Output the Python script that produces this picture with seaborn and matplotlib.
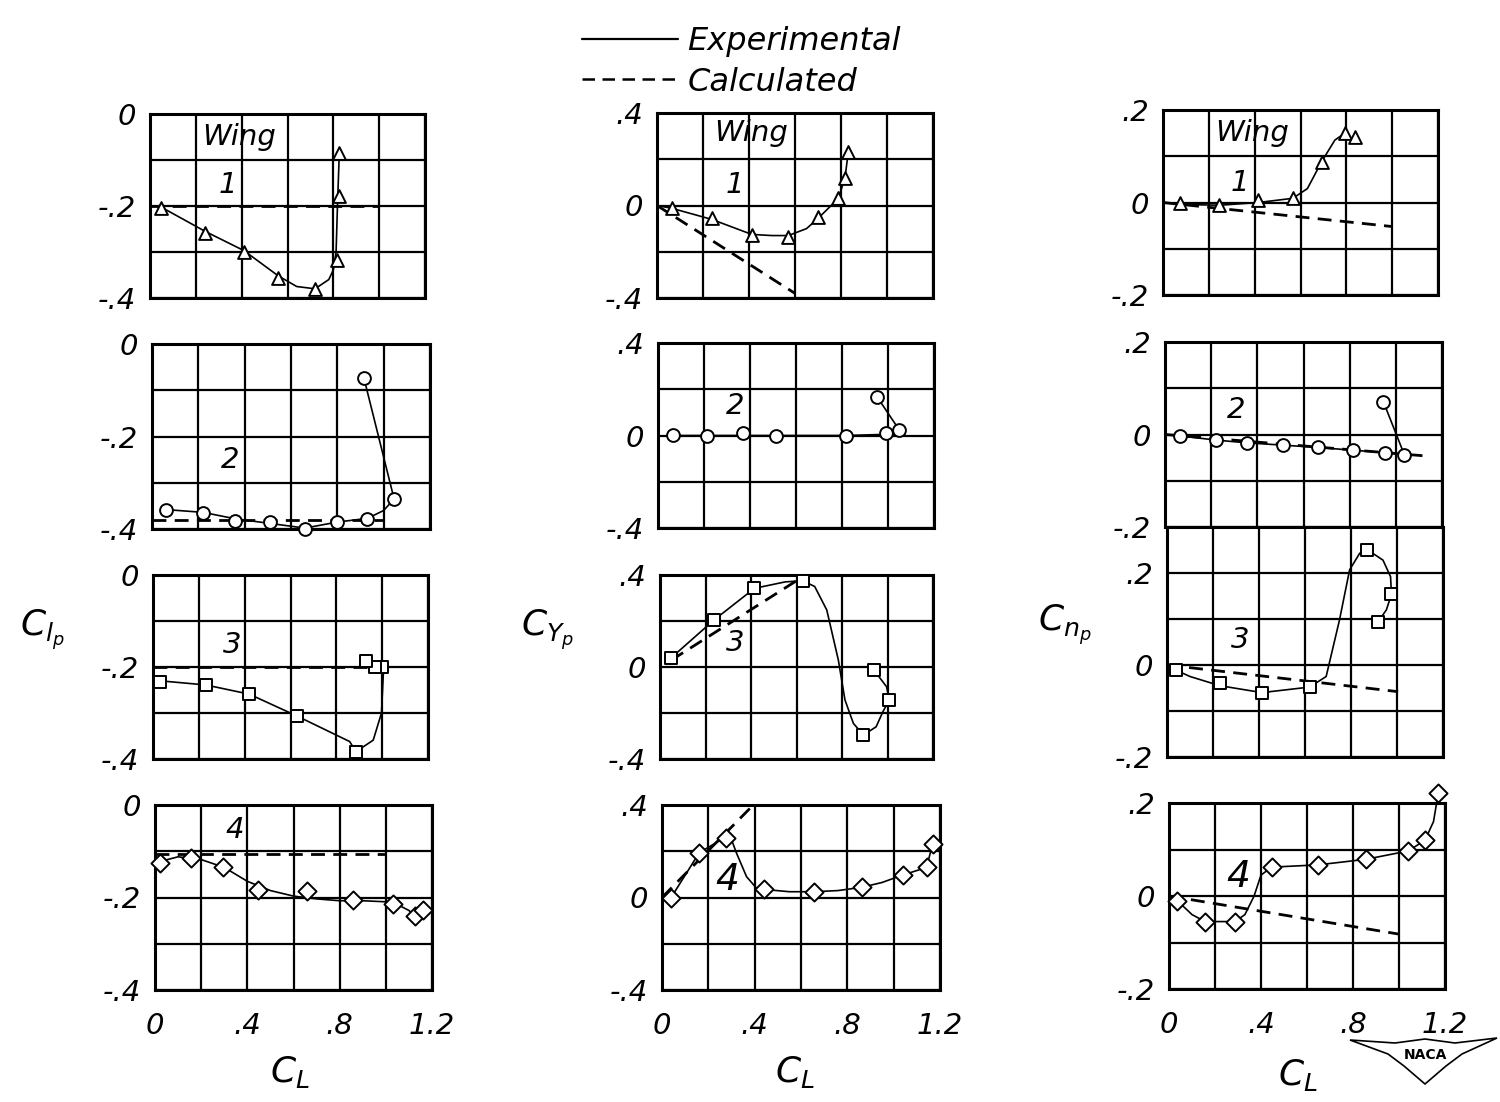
import numpy as np
import pandas as pd
import matplotlib
matplotlib.use("Agg")
import matplotlib.pyplot as plt
import seaborn as sns
from matplotlib.lines import Line2D
from matplotlib.patches import Polygon

# ---------------- data ----------------
# C_l_p panels
clp1_mx = [0.05, 0.24, 0.41, 0.56, 0.72, 0.815, 0.826, 0.826]
clp1_my = [-0.205, -0.259, -0.299, -0.357, -0.381, -0.317, -0.178, -0.085]
clp1_cx = [0.04, 0.24, 0.41, 0.56, 0.64, 0.72, 0.78, 0.80, 0.812, 0.818, 0.826]
clp1_cy = [-0.20, -0.255, -0.297, -0.352, -0.375, -0.38, -0.36, -0.339, -0.30, -0.20, -0.085]
clp1_kx = [0.0, 1.0]
clp1_ky = [-0.20, -0.20]

clp2_mx = [0.06, 0.22, 0.36, 0.51, 0.66, 0.80, 0.93, 1.045, 0.915]
clp2_my = [-0.359, -0.365, -0.382, -0.384, -0.401, -0.384, -0.378, -0.335, -0.074]
clp2_cx = [0.06, 0.22, 0.36, 0.51, 0.66, 0.80, 0.93, 1.00, 1.045, 0.915]
clp2_cy = [-0.358, -0.364, -0.378, -0.388, -0.398, -0.385, -0.377, -0.36, -0.335, -0.074]
clp2_kx = [0.0, 1.0]
clp2_ky = [-0.38, -0.38]

clp3_mx = [0.03, 0.23, 0.42, 0.63, 0.886, 1.0, 0.97, 0.93]
clp3_my = [-0.232, -0.239, -0.259, -0.307, -0.384, -0.201, -0.201, -0.188]
clp3_cx = [0.03, 0.23, 0.42, 0.63, 0.858, 0.886, 0.961, 0.997, 1.006]
clp3_cy = [-0.23, -0.239, -0.259, -0.307, -0.362, -0.384, -0.359, -0.30, -0.205]
clp3_kx = [0.0, 1.0]
clp3_ky = [-0.20, -0.20]

clp4_mx = [0.022, 0.155, 0.296, 0.448, 0.657, 0.859, 1.03, 1.127, 1.163]
clp4_my = [-0.126, -0.115, -0.135, -0.183, -0.185, -0.205, -0.213, -0.241, -0.227]
clp4_cx = [0.0, 0.1, 0.2, 0.3, 0.4, 0.5, 0.6, 0.7, 0.8, 0.9, 1.03, 1.1, 1.127, 1.163]
clp4_cy = [-0.125, -0.112, -0.118, -0.135, -0.165, -0.185, -0.197, -0.203, -0.207, -0.207,
           -0.21, -0.228, -0.241, -0.227]
clp4_kx = [0.0, 1.0]
clp4_ky = [-0.105, -0.105]

# C_Y_p panels
cyp1_mx = [0.064, 0.238, 0.412, 0.571, 0.701, 0.788, 0.817, 0.832]
cyp1_my = [-0.012, -0.055, -0.128, -0.135, -0.051, 0.031, 0.118, 0.233]
cyp1_cx = [0.0, 0.064, 0.238, 0.412, 0.50, 0.571, 0.65, 0.701, 0.788, 0.817, 0.832]
cyp1_cy = [0.0, -0.012, -0.06, -0.125, -0.13, -0.13, -0.10, -0.055, 0.03, 0.118, 0.233]
cyp1_kx = [0.0, 0.60]
cyp1_ky = [0.0, -0.38]

cyp2_mx = [0.067, 0.214, 0.368, 0.513, 0.817, 0.991, 1.049, 0.954]
cyp2_my = [0.002, 0.0, 0.012, 0.0, 0.0, 0.01, 0.024, 0.165]
cyp2_cx = [0.067, 0.214, 0.368, 0.513, 0.817, 0.991, 1.049, 0.954]
cyp2_cy = [0.0, 0.0, 0.0, 0.0, 0.0, 0.005, 0.024, 0.165]

cyp3_mx = [0.047, 0.237, 0.415, 0.627, 0.894, 1.008, 0.94]
cyp3_my = [0.038, 0.204, 0.342, 0.375, -0.296, -0.143, -0.013]
cyp3_cx = [0.047, 0.237, 0.415, 0.55, 0.627, 0.68, 0.733, 0.784, 0.813, 0.85, 0.894,
           0.95, 0.98, 1.008, 0.996, 0.94]
cyp3_cy = [0.038, 0.204, 0.342, 0.37, 0.375, 0.35, 0.248, 0.03, -0.143, -0.245, -0.296,
           -0.26, -0.194, -0.143, -0.086, -0.013]
cyp3_kx = [0.05, 0.60]
cyp3_ky = [0.03, 0.375]

cyp4_mx = [0.037, 0.161, 0.276, 0.44, 0.656, 0.862, 1.039, 1.142, 1.168]
cyp4_my = [-0.004, 0.194, 0.256, 0.035, 0.025, 0.044, 0.097, 0.13, 0.231]
cyp4_cx = [0.037, 0.161, 0.276, 0.30, 0.322, 0.365, 0.408, 0.44, 0.55, 0.656, 0.76,
           0.862, 0.95, 1.039, 1.142, 1.168]
cyp4_cy = [-0.004, 0.194, 0.262, 0.25, 0.191, 0.09, 0.04, 0.035, 0.025, 0.025, 0.03,
           0.044, 0.065, 0.097, 0.13, 0.231]
cyp4_kx = [0.0, 0.394]
cyp4_ky = [0.0, 0.40]

# C_n_p panels
cnp1_mx = [0.074, 0.246, 0.416, 0.566, 0.692, 0.794, 0.838]
cnp1_my = [-0.002, -0.005, 0.005, 0.009, 0.088, 0.15, 0.142]
cnp1_cx = [0.0, 0.074, 0.246, 0.416, 0.566, 0.63, 0.692, 0.75, 0.794]
cnp1_cy = [0.0, -0.004, -0.006, 0.0, 0.009, 0.03, 0.088, 0.135, 0.15]
cnp1_kx = [0.0, 1.0]
cnp1_ky = [0.0, -0.052]

cnp2_mx = [0.065, 0.22, 0.354, 0.51, 0.664, 0.813, 0.953, 1.037, 0.946]
cnp2_my = [-0.003, -0.012, -0.018, -0.023, -0.028, -0.034, -0.039, -0.044, 0.071]
cnp2_cx = [0.0, 0.065, 0.22, 0.354, 0.51, 0.664, 0.813, 0.953, 1.037, 0.946]
cnp2_cy = [0.0, -0.003, -0.012, -0.018, -0.023, -0.028, -0.034, -0.039, -0.044, 0.071]
cnp2_kx = [0.0, 1.12]
cnp2_ky = [0.0, -0.046]

cnp3_mx = [0.038, 0.23, 0.413, 0.62, 0.87, 0.976, 0.918]
cnp3_my = [-0.011, -0.04, -0.06, -0.048, 0.251, 0.154, 0.094]
cnp3_cx = [0.038, 0.10, 0.23, 0.413, 0.62, 0.692, 0.75, 0.794, 0.838, 0.87, 0.939,
           0.972, 0.976, 0.954, 0.918]
cnp3_cy = [-0.011, -0.025, -0.045, -0.06, -0.048, -0.025, 0.098, 0.207, 0.243, 0.251,
           0.228, 0.192, 0.154, 0.12, 0.094]
cnp3_kx = [0.0, 1.005]
cnp3_ky = [0.0, -0.058]

cnp4_mx = [0.036, 0.157, 0.287, 0.446, 0.649, 0.857, 1.041, 1.113, 1.171]
cnp4_my = [-0.01, -0.055, -0.055, 0.062, 0.067, 0.079, 0.097, 0.12, 0.222]
cnp4_cx = [0.036, 0.10, 0.157, 0.287, 0.33, 0.37, 0.40, 0.446, 0.649, 0.857, 1.041,
           1.113, 1.15, 1.171]
cnp4_cy = [-0.01, -0.04, -0.055, -0.055, -0.04, 0.0, 0.045, 0.062, 0.067, 0.079, 0.097,
           0.12, 0.16, 0.222]
cnp4_kx = [0.0, 1.0]
cnp4_ky = [0.0, -0.082]

x_ticks = [0.0, 0.2, 0.4, 0.6, 0.8, 1.0, 1.2]
x_ticklabels = ["0", "", ".4", "", ".8", "", "1.2"]
legend_labels = ["Experimental", "Calculated"]

# ---------------- styling ----------------
sns.set_theme(style="white")
plt.rcParams["font.family"] = ["DejaVu Sans"]
plt.rcParams["mathtext.fontset"] = "dejavusans"
for key in ["text.color", "axes.labelcolor", "xtick.color", "ytick.color", "axes.edgecolor"]:
    plt.rcParams[key] = "black"

W, H = 1500, 1102
fig = plt.figure(figsize=(15, 11.02), dpi=100)
fig.patch.set_facecolor("white")

def px_axes(l, t, r, b):
    return fig.add_axes([l / W, 1 - b / H, (r - l) / W, (b - t) / H])

TICKFONT = dict(fontsize=21, fontstyle="italic", color="black")

def setup(ax, ylim, yticks, ylabels, bottom):
    ax.set_xlim(0, 1.2)
    ax.set_ylim(*ylim)
    ax.set_xticks(x_ticks)
    ax.set_yticks(yticks)
    ax.set_yticklabels(ylabels, **TICKFONT)
    if bottom:
        ax.set_xticklabels(x_ticklabels, **TICKFONT)
    else:
        ax.set_xticklabels([""] * len(x_ticks))
    ax.tick_params(axis="both", length=0, colors="black")
    ax.tick_params(axis="y", pad=10)
    ax.tick_params(axis="x", pad=16)
    ax.grid(True, color="black", linewidth=1.6)
    ax.set_axisbelow(True)
    for s in ax.spines.values():
        s.set_visible(True)
        s.set_color("black")
        s.set_linewidth(2.2)
    ax.set_xlabel("")
    ax.set_ylabel("")
    ax.set_facecolor("white")

def draw(ax, mx, my, cx, cy, kx, ky, marker):
    if kx is not None:
        sns.lineplot(x=kx, y=ky, ax=ax, color="black", linewidth=2.0, sort=False,
                     estimator=None, linestyle=(0, (5, 3)), zorder=3, clip_on=False)
    sns.lineplot(x=cx, y=cy, ax=ax, color="black", linewidth=1.2, sort=False,
                 estimator=None, zorder=4, clip_on=False)
    sns.scatterplot(x=mx, y=my, ax=ax, marker=marker, s=85, color="white",
                    edgecolor="black", linewidth=1.4, zorder=5, clip_on=False)

left_yt = [-0.4, -0.3, -0.2, -0.1, 0.0]
left_yl = ["-.4", "", "-.2", "", "0"]
mid_yt = [-0.4, -0.2, 0.0, 0.2, 0.4]
mid_yl = ["-.4", "", "0", "", ".4"]
right_yt = [-0.2, -0.1, 0.0, 0.1, 0.2]
right_yl = ["-.2", "", "0", "", ".2"]
r3_yt = [-0.2, -0.1, 0.0, 0.1, 0.2, 0.3]
r3_yl = ["-.2", "", "0", "", ".2", ""]

TXT = dict(fontsize=21, fontstyle="italic", ha="center", va="center", zorder=6, color="black")
TXT_BIG = dict(TXT, fontsize=27)

# ---- left column: C_l_p ----
ax = px_axes(150, 114, 425, 298)
setup(ax, (-0.4, 0.0), left_yt, left_yl, False)
draw(ax, clp1_mx, clp1_my, clp1_cx, clp1_cy, clp1_kx, clp1_ky, "^")
ax.text(0.39, -0.05, "Wing", **TXT)
ax.text(0.34, -0.154, "1", **TXT)

ax = px_axes(152, 344, 430, 529)
setup(ax, (-0.4, 0.0), left_yt, left_yl, False)
draw(ax, clp2_mx, clp2_my, clp2_cx, clp2_cy, clp2_kx, clp2_ky, "o")
ax.text(0.337, -0.25, "2", **TXT)

ax = px_axes(153, 575, 428, 759)
setup(ax, (-0.4, 0.0), left_yt, left_yl, False)
draw(ax, clp3_mx, clp3_my, clp3_cx, clp3_cy, clp3_kx, clp3_ky, "s")
ax.text(0.345, -0.152, "3", **TXT)

ax = px_axes(155, 805, 432, 990)
setup(ax, (-0.4, 0.0), left_yt, left_yl, True)
draw(ax, clp4_mx, clp4_my, clp4_cx, clp4_cy, clp4_kx, clp4_ky, "D")
ax.text(0.347, -0.054, "4", **TXT)

# ---- middle column: C_Y_p ----
ax = px_axes(657, 113, 933, 298)
setup(ax, (-0.4, 0.4), mid_yt, mid_yl, False)
draw(ax, cyp1_mx, cyp1_my, cyp1_cx, cyp1_cy, cyp1_kx, cyp1_ky, "^")
ax.text(0.41, 0.314, "Wing", **TXT)
ax.text(0.34, 0.089, "1", **TXT)

ax = px_axes(658, 343, 934, 528)
setup(ax, (-0.4, 0.4), mid_yt, mid_yl, False)
draw(ax, cyp2_mx, cyp2_my, cyp2_cx, cyp2_cy, None, None, "o")
ax.text(0.335, 0.128, "2", **TXT)

ax = px_axes(660, 575, 933, 759)
setup(ax, (-0.4, 0.4), mid_yt, mid_yl, False)
draw(ax, cyp3_mx, cyp3_my, cyp3_cx, cyp3_cy, cyp3_kx, cyp3_ky, "s")
ax.text(0.33, 0.104, "3", **TXT)

ax = px_axes(662, 805, 940, 990)
setup(ax, (-0.4, 0.4), mid_yt, mid_yl, True)
draw(ax, cyp4_mx, cyp4_my, cyp4_cx, cyp4_cy, cyp4_kx, cyp4_ky, "D")
ax.text(0.28, 0.076, "4", **TXT_BIG)

# ---- right column: C_n_p ----
ax = px_axes(1163, 110, 1438, 295)
setup(ax, (-0.2, 0.2), right_yt, right_yl, False)
draw(ax, cnp1_mx, cnp1_my, cnp1_cx, cnp1_cy, cnp1_kx, cnp1_ky, "^")
ax.text(0.39, 0.15, "Wing", **TXT)
ax.text(0.336, 0.042, "1", **TXT)

ax = px_axes(1165, 342, 1442, 527)
setup(ax, (-0.2, 0.2), right_yt, right_yl, False)
draw(ax, cnp2_mx, cnp2_my, cnp2_cx, cnp2_cy, cnp2_kx, cnp2_ky, "o")
ax.text(0.308, 0.053, "2", **TXT)

ax = px_axes(1167, 527, 1443, 757)
setup(ax, (-0.2, 0.3), r3_yt, r3_yl, False)
draw(ax, cnp3_mx, cnp3_my, cnp3_cx, cnp3_cy, cnp3_kx, cnp3_ky, "s")
ax.text(0.317, 0.054, "3", **TXT)

ax = px_axes(1169, 803, 1445, 989)
setup(ax, (-0.2, 0.2), right_yt, right_yl, True)
draw(ax, cnp4_mx, cnp4_my, cnp4_cx, cnp4_cy, cnp4_kx, cnp4_ky, "D")
ax.text(0.30, 0.041, "4", **TXT_BIG)

# ---- axis titles ----
def ftxt(x, y, s, **kw):
    fig.text(x / W, 1 - y / H, s, ha="center", va="center", color="black", **kw)

ftxt(42, 630, r"$C_{l_p}$", fontsize=26)
ftxt(548, 630, r"$C_{Y_p}$", fontsize=26)
ftxt(1065, 625, r"$C_{n_p}$", fontsize=26)
ftxt(290, 1072, r"$C_L$", fontsize=26)
ftxt(795, 1072, r"$C_L$", fontsize=26)
ftxt(1298, 1075, r"$C_L$", fontsize=26)

# ---- legend ----
handles = [Line2D([], [], color="black", linewidth=1.6),
           Line2D([], [], color="black", linewidth=1.8, linestyle=(0, (5, 3)))]
leg = fig.legend(handles, legend_labels, loc="upper left",
                 bbox_to_anchor=(582 / W, 1 - 26 / H), frameon=False,
                 prop=dict(size=23, style="italic"), handlelength=3.0,
                 handletextpad=0.3, labelspacing=0.3, borderpad=0, borderaxespad=0)
for t in leg.get_texts():
    t.set_color("black")

# ---- NACA emblem ----
wing = [(1350, 1040), (1395, 1043), (1425, 1039), (1455, 1043), (1497, 1038),
        (1462, 1054), (1446, 1066), (1425, 1084), (1404, 1066), (1388, 1054)]
fig.add_artist(Polygon([(x / W, 1 - y / H) for x, y in wing], closed=True,
                       transform=fig.transFigure, facecolor="white",
                       edgecolor="black", linewidth=1.2))
ftxt(1425, 1055, "NACA", fontsize=10, fontweight="bold")

fig.savefig("out.png", dpi=100, facecolor="white")
